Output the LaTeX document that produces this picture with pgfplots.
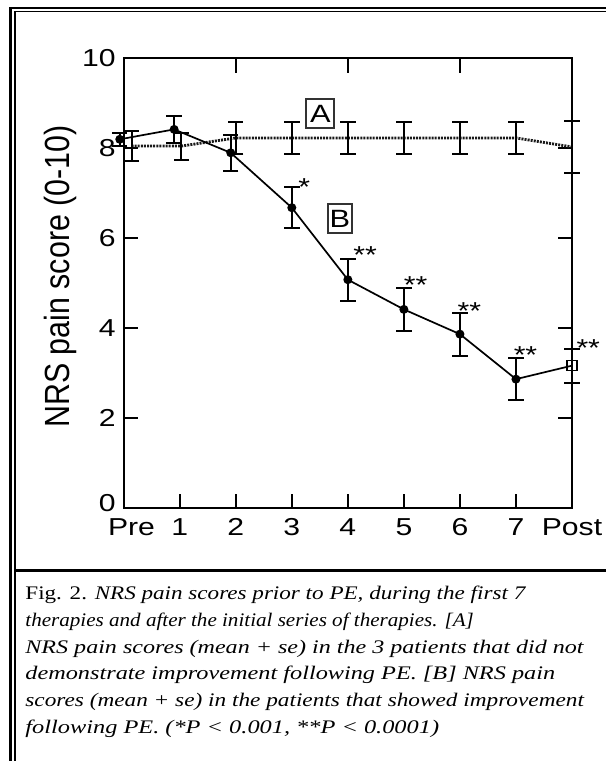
\documentclass[border=0pt]{standalone}
\usepackage{fontspec}
\setmainfont{Liberation Sans}
\newfontfamily\capfont{Liberation Serif}
\usepackage{graphicx}
\usepackage{pgfplots}
\pgfplotsset{compat=1.18}

% the source figure is stretched sideways, so the text is too
\newcommand\tl[1]{\scalebox{1.23}[1]{#1}}
\newcommand\capline[3]{\node[anchor=base west, inner sep=0pt] at (12.5pt,#1)
  {\resizebox{#2}{\height}{\capfont\fontsize{9.6}{13}\selectfont #3}};}

\pgfplotsset{frame/.style={
  at={(61.85pt,126.35pt)}, anchor=south west,
  width=224.15pt, height=225pt, scale only axis,
  xmin=0, xmax=8, ymin=0, ymax=10,
  axis line style={line width=1.15pt},
  tick align=inside,
  major tick length=7.2pt,
  tick style={line width=1.2pt, black},
}}

\begin{document}
\begin{tikzpicture}
\useasboundingbox (0,0) rectangle (303pt,380.5pt);
% page frame
\draw[line width=1.25pt] (5.15pt,0) -- (5.15pt,376.5pt) -- (303pt,376.5pt);
\draw[line width=0.7pt] (7.4pt,0) -- (7.4pt,374.65pt) -- (303pt,374.65pt);
\draw[line width=1.2pt] (7.4pt,95.25pt) -- (303pt,95.25pt);

% caption
\capline{80.5pt}{250.35pt}{Fig. 2. \textit{NRS pain scores prior to PE, during the first 7}}
\capline{67.15pt}{224.25pt}{\textit{therapies and after the initial series of therapies. [A]}}
\capline{53.85pt}{279.35pt}{\textit{NRS pain scores (mean + se) in the 3 patients that did not}}
\capline{40.5pt}{264.85pt}{\textit{demonstrate improvement following PE. [B] NRS pain}}
\capline{27.15pt}{279.5pt}{\textit{scores (mean + se) in the patients that showed improvement}}
\capline{13.85pt}{206.85pt}{\textit{following PE. (*P < 0.001, **P < 0.0001)}}

% y label
\node[anchor=base, rotate=90, inner sep=0pt] at (34.75pt,242.25pt)
  {\scalebox{1}[1.15]{\fontsize{15.2}{18}\selectfont NRS pain score (0-10)}};

% top ticks sit only at 2, 4 and 6
\begin{axis}[frame, xtick={2,4,6}, xticklabels={}, xtick pos=right, ytick=\empty]
\end{axis}

\begin{axis}[
  frame,
  clip=false,
  xtick={0,...,8},
  xticklabels={\hspace{7.8pt}\tl{Pre},\tl{1},\tl{2},\tl{3},\tl{4},\tl{5},\tl{6},\tl{7},\tl{Post}\hspace{3pt}},
  xtick pos=left,
  ytick={0,2,...,10},
  yticklabels={\raisebox{5pt}{\tl{0}},\tl{2},\tl{4},\tl{6},\tl{8},\tl{10}},
  ytick pos=both,
  ticklabel style={font=\fontsize{12.25}{14}\selectfont},
  yticklabel style={anchor=east, inner sep=0pt, xshift=-3.85pt},
  xticklabel style={anchor=north, inner sep=0pt, yshift=-5pt},
]
% A: patients without improvement
\addplot[black!90, line width=1.4pt, dash pattern=on 1pt off 0.55pt, mark=none,
  error bars/.cd, y dir=both, y explicit,
  error bar style={line width=1pt, solid, black},
  error mark options={rotate=90, line width=1pt, mark size=3.85pt, solid, black}]
coordinates {
  (0.14,8.05) +- (0,0.33)
  (1.03,8.05) +- (0,0.30)
  (2,8.23) +- (0,0.35)
  (3,8.23) +- (0,0.35)
  (4,8.23) +- (0,0.35)
  (5,8.23) +- (0,0.35)
  (6,8.23) +- (0,0.35)
  (7,8.23) +- (0,0.35)
  (8,8.03) +- (0,0.58)
};

% B: patients with improvement
\addplot[black, line width=0.85pt, mark=*, mark size=1.8pt, mark indices={1,...,8},
  error bars/.cd, y dir=both, y explicit,
  error bar style={line width=1pt},
  error mark options={rotate=90, line width=1pt, mark size=3.85pt}]
coordinates {
  (-0.07,8.20) +- (0,0.15)
  (0.90,8.42) +- (0,0.30)
  (1.91,7.90) +- (0,0.40)
  (3,6.68) +- (0,0.46)
  (4,5.08) +- (0,0.47)
  (5,4.42) +- (0,0.48)
  (6,3.87) +- (0,0.48)
  (7,2.87) +- (0,0.46)
  (8,3.17) +- (0,0.38)
};
\addplot[black, only marks, mark=square, mark size=2.5pt, mark options={line width=0.8pt}]
coordinates {(8,3.17)};

% significance marks
\begin{scope}[every node/.style={inner sep=0pt, yshift=-2.6pt, font=\fontsize{12.25}{14}\selectfont}]
\node at (axis cs:3.22,7.26) {\tl{*}};
\node at (axis cs:4.31,5.74) {\tl{**}};
\node at (axis cs:5.21,5.07) {\tl{**}};
\node at (axis cs:6.17,4.50) {\tl{**}};
\node at (axis cs:7.17,3.53) {\tl{**}};
\node at (axis cs:8.29,3.67) {\tl{**}};
\end{scope}

% series labels
\node[draw=black!80, line width=0.9pt, minimum width=14pt, minimum height=14.5pt, inner sep=0pt,
  font=\fontsize{12.5}{14}\selectfont] at (axis cs:3.51,8.77) {\tl{A}};
\node[draw=black!80, line width=0.9pt, minimum width=12pt, minimum height=14.5pt, inner sep=0pt,
  font=\fontsize{12.5}{14}\selectfont] at (axis cs:3.86,6.44) {\tl{B}};
\end{axis}
\end{tikzpicture}
\end{document}
